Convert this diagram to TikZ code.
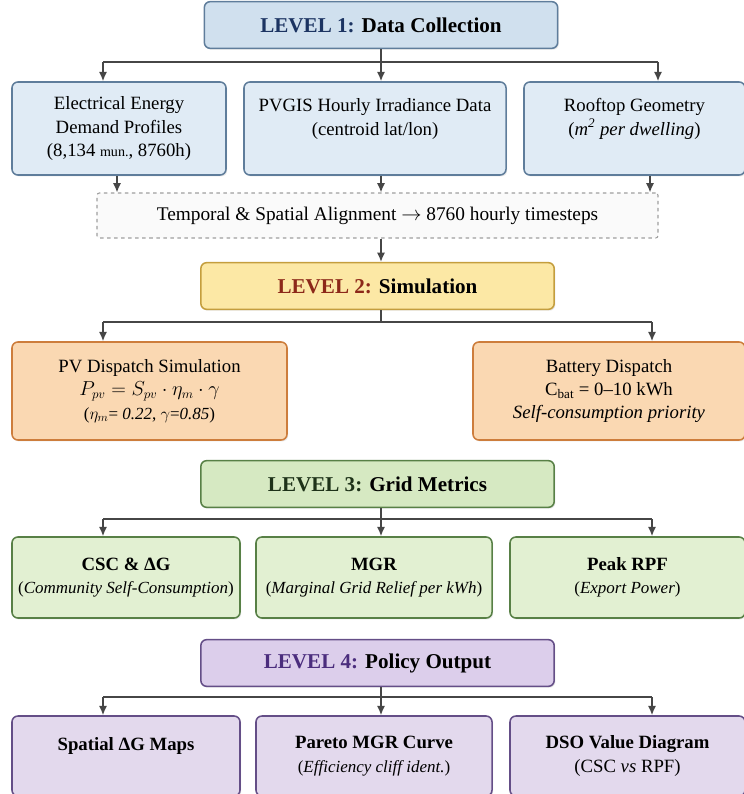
\documentclass[tikz,border=0pt]{standalone}
\usepackage{fontspec}
\setmainfont{Liberation Serif}
\usetikzlibrary{positioning}
\usetikzlibrary{arrows.meta}
\usetikzlibrary{shadows}

\definecolor{blueHeadFill}{RGB}{208,224,238}
\definecolor{blueFill}{RGB}{224,235,245}
\definecolor{blueLine}{RGB}{95,125,155}
\definecolor{levelNavy}{RGB}{28,52,98}
\definecolor{yellowFill}{RGB}{252,232,165}
\definecolor{yellowLine}{RGB}{196,158,62}
\definecolor{levelRed}{RGB}{140,40,25}
\definecolor{orangeFill}{RGB}{250,216,178}
\definecolor{orangeLine}{RGB}{205,125,60}
\definecolor{greenHeadFill}{RGB}{214,233,194}
\definecolor{greenFill}{RGB}{226,240,210}
\definecolor{greenLine}{RGB}{88,128,70}
\definecolor{levelGreen}{RGB}{30,50,25}
\definecolor{purpleHeadFill}{RGB}{220,206,235}
\definecolor{purpleFill}{RGB}{227,217,237}
\definecolor{purpleLine}{RGB}{100,78,135}
\definecolor{levelPurple}{RGB}{75,45,125}
\definecolor{linkGray}{RGB}{70,70,70}

\newcommand{\subtxt}{\fontsize{14.5}{18}\selectfont}
\newcommand{\bigsubtxt}{\fontsize{16}{20}\selectfont}

\tikzset{every node/.style={align=center},
         box/.style={ % common look of all boxes
           draw, rounded corners=5pt, line width=1.3pt,
           drop shadow={opacity=0.18, shadow xshift=1pt, shadow yshift=-1.2pt}},
         header/.style={box, minimum width=10.6cm, minimum height=1.4cm,
           font=\fontsize{18}{21}\selectfont\bfseries},
         kid/.style={box, font=\fontsize{16}{20}\selectfont},
         l1head/.style={header, fill=blueHeadFill, draw=blueLine},
         l1kid/.style={kid, fill=blueFill, draw=blueLine, minimum height=2.79cm},
         l2head/.style={header, fill=yellowFill, draw=yellowLine},
         l2kid/.style={kid, fill=orangeFill, draw=orangeLine, minimum height=2.94cm},
         l3head/.style={header, fill=greenHeadFill, draw=greenLine},
         l3kid/.style={kid, fill=greenFill, draw=greenLine, minimum height=2.43cm},
         l4head/.style={header, fill=purpleHeadFill, draw=purpleLine},
         l4kid/.style={kid, fill=purpleFill, draw=purpleLine, minimum height=2.4cm},
         alignbox/.style={draw=gray!75, dashed, line width=0.9pt, fill=gray!4,
           rounded corners=2pt, minimum width=16.83cm, minimum height=1.35cm,
           font=\fontsize{16.5}{20}\selectfont},
         link/.style={draw=linkGray, line width=1.3pt},
         arr/.style={link, -{Latex[length=8pt,width=7pt]}}}

\begin{document}
\begin{tikzpicture}[x=0.03cm, y=-0.03cm]
  \useasboundingbox (0,0) rectangle (743,794);

  % LEVEL 1
  \node [l1head] (lev1) at (381,25) {\textcolor{levelNavy}{LEVEL 1:} Data Collection};
  \node [l1kid, minimum width=6.42cm] (demand) at (119,128.5) {
    Electrical Energy\\
    Demand Profiles\\
    {\bigsubtxt (8,134 {\fontsize{12}{14}\selectfont mun.}, 8760h)}};
  \node [l1kid, minimum width=7.86cm] (pvgis) at (375,128.5) {
    PVGIS Hourly Irradiance Data\\
    {\bigsubtxt (centroid lat/lon)}\\
    \phantom{x}};
  \node [l1kid, minimum width=6.63cm] (roof) at (634.5,128.5) {
    Rooftop Geometry\\
    {\bigsubtxt (\textit{m\textsuperscript{2} per dwelling})}\\
    \phantom{x}};
  \node [alignbox] (align) at (377.5,215.5) {
    Temporal \& Spatial Alignment $\rightarrow$ 8760 hourly timesteps};

  \coordinate (bar1l) at (103,62);
  \coordinate (bar1r) at (658,62);
  \draw [link] (lev1.south) -- (lev1.south |- bar1l);
  \draw [link] (bar1l) -- (bar1r);
  \draw [arr] (bar1l) -- (bar1l |- demand.north);
  \draw [arr] (lev1.south |- bar1l) -- (lev1.south |- pvgis.north);
  \draw [arr] (bar1r) -- (bar1r |- roof.north);

  \draw [arr] (117,0 |- demand.south) -- (117,0 |- align.north);
  \draw [arr] (lev1.south |- pvgis.south) -- (lev1.south |- align.north);
  \draw [arr] (650,0 |- roof.south) -- (650,0 |- align.north);

  % LEVEL 2
  \node [l2head] (lev2) at (377.5,286) {\textcolor{levelRed}{LEVEL 2:} Simulation};
  \draw [arr] (lev1.south |- align.south) -- (lev1.south |- lev2.north);
  \node [l2kid, minimum width=8.25cm] (pvsim) at (149.5,391) {
    PV Dispatch Simulation\\
    $P_{pv} = S_{pv}\cdot\eta_m\cdot\gamma$\\
    {\subtxt ($\eta_m$= \textit{0.22}, $\gamma$=\textit{0.85})}};
  \node [l2kid, minimum width=8.16cm] (battery) at (609,391) {
    Battery Dispatch\\
    C\textsubscript{bat} = 0--10 kWh\\
    \textit{Self-consumption priority}};

  \coordinate (bar2l) at (103,322);
  \coordinate (bar2r) at (652,322);
  \draw [link] (lev1.south |- lev2.south) -- (lev1.south |- bar2l);
  \draw [link] (bar2l) -- (bar2r);
  \draw [arr] (bar2l) -- (bar2l |- pvsim.north);
  \draw [arr] (bar2r) -- (bar2r |- battery.north);

  % LEVEL 3
  \node [l3head] (lev3) at (377.5,484) {\textcolor{levelGreen}{LEVEL 3:} Grid Metrics};
  \node [l3kid, minimum width=6.84cm] (csc) at (126,577.5) {
    \textbf{CSC \& ΔG}\\
    {\subtxt (\textit{Community Self-Consumption})}};
  \node [l3kid, minimum width=7.08cm] (mgr) at (374,577.5) {
    \textbf{MGR}\\
    {\subtxt (\textit{Marginal Grid Relief per kWh})}};
  \node [l3kid, minimum width=7.05cm] (rpf) at (627.5,577.5) {
    \textbf{Peak RPF}\\
    {\subtxt (\textit{Export Power})}};

  \coordinate (bar3l) at (103,519);
  \coordinate (bar3r) at (652,519);
  \draw [link] (lev1.south |- lev3.south) -- (lev1.south |- bar3l);
  \draw [link] (bar3l) -- (bar3r);
  \draw [arr] (bar3l) -- (bar3l |- csc.north);
  \draw [arr] (lev1.south |- bar3l) -- (lev1.south |- mgr.north);
  \draw [arr] (bar3r) -- (bar3r |- rpf.north);

  % LEVEL 4
  \node [l4head] (lev4) at (377.5,663) {\textcolor{levelPurple}{LEVEL 4:} Policy Output};
  \node [l4kid, minimum width=6.84cm] (maps) at (126,756) {
    \textbf{Spatial ΔG Maps}\\
    \phantom{x}};
  \node [l4kid, minimum width=7.08cm] (pareto) at (374,756) {
    \textbf{Pareto MGR Curve}\\
    {\subtxt (\textit{Efficiency cliff ident.})}};
  \node [l4kid, minimum width=7.05cm] (dso) at (627.5,756) {
    \textbf{DSO Value Diagram}\\
    {\bigsubtxt (CSC \textit{vs} RPF)}};

  \coordinate (bar4l) at (103,697);
  \coordinate (bar4r) at (652,697);
  \draw [link] (lev1.south |- lev4.south) -- (lev1.south |- bar4l);
  \draw [link] (bar4l) -- (bar4r);
  \draw [arr] (bar4l) -- (bar4l |- maps.north);
  \draw [arr] (lev1.south |- bar4l) -- (lev1.south |- pareto.north);
  \draw [arr] (bar4r) -- (bar4r |- dso.north);

\end{tikzpicture}
\end{document}
